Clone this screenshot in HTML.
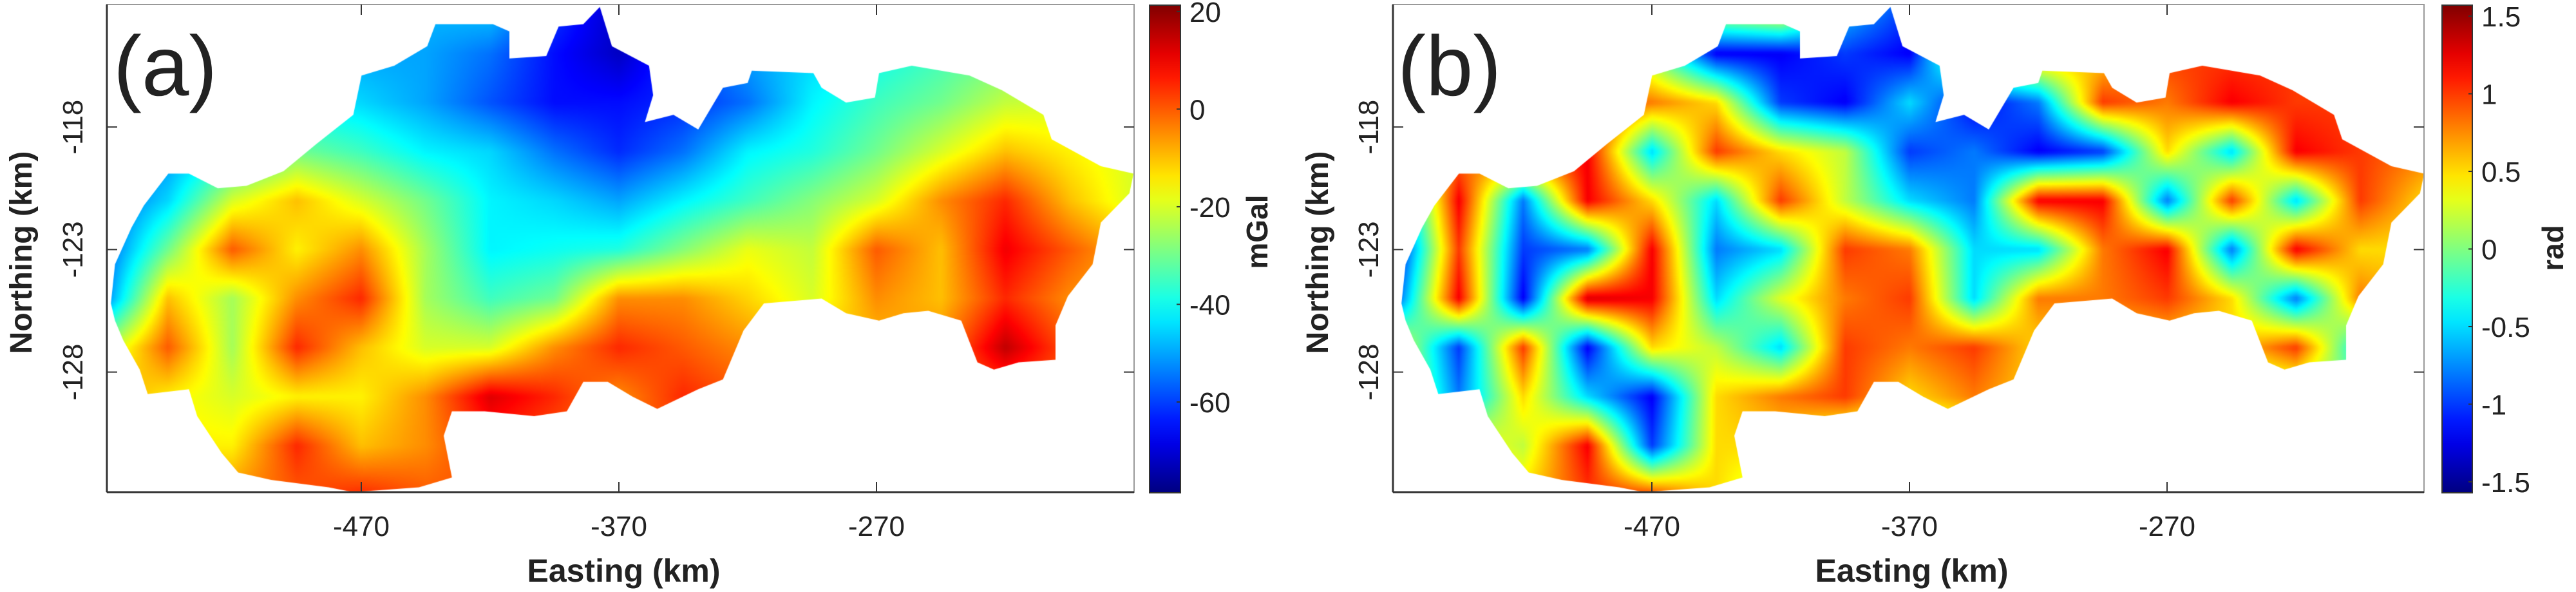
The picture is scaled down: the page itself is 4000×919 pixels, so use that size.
<!DOCTYPE html>
<html><head><meta charset="utf-8">
<style>
html,body{margin:0;padding:0;background:#fff;}
#wrap{position:relative;width:4000px;height:919px;overflow:hidden;background:#fff;}
canvas{position:absolute;}
svg{position:absolute;left:0;top:0;}
text{font-family:"Liberation Sans",Arial,sans-serif;fill:#222;}
</style></head>
<body>
<div id="wrap">
<canvas id="cA"></canvas>
<canvas id="cB"></canvas>
<svg id="svg" width="4000" height="919"></svg>
</div>
<script>
// ---- data ----
const gridEasting = [-570,-545,-520,-495,-470,-445,-420,-395,-370,-345,-320,-295,-270,-245,-220,-195,-170];
const gridNorthing = [-113,-115,-117,-119,-121,-123,-125,-127,-129,-131,-133];
const gravityValues = [
[-50,-50,-50,-50,-50,-48,-45,-60,-72,-60,-50,-45,-40,-35,-30,-25,-25],
[-50,-50,-50,-50,-50,-50,-55,-65,-72,-60,-50,-45,-40,-35,-30,-25,-25],
[-55,-50,-45,-42,-45,-50,-58,-65,-65,-62,-55,-42,-35,-30,-22,-20,-20],
[-58,-52,-40,-30,-35,-42,-45,-55,-62,-55,-42,-38,-30,-20,-10,-15,-20],
[-58,-45,-20,-10,-20,-30,-42,-45,-50,-42,-35,-28,-20,-5,5,-10,-20],
[-58,-30,0,-15,-5,-25,-42,-40,-38,-28,-18,-22,0,-10,10,0,-10],
[-55,-10,-25,-5,5,-25,-35,-30,-5,-5,-12,-20,-5,-10,5,-5,-10],
[-25,0,-25,5,-10,-20,-20,-5,5,0,-5,-10,-10,-5,15,0,-5],
[-5,-15,-20,-15,-15,-5,12,5,-5,5,0,0,0,0,0,0,0],
[-10,-15,-15,5,-10,-5,5,0,0,0,0,0,0,0,0,0,0],
[-10,-10,-5,0,5,0,0,0,0,0,0,0,0,0,0,0,0]];
const phaseValues = [
[0,0,0,0,0,0.5,0.8,-0.5,-1,0,0,0,0,0,0,0,0],
[0,0,0,0,0,-1.2,-1.2,-1.0,-1.2,0.5,0.8,0.5,1,1,1,0.8,0.5],
[0.5,0.5,0.8,1.0,0.8,0.5,-1.0,-1.2,-0.5,-1.2,-0.8,1.0,0.8,1.2,1.0,1.0,0.8],
[0.5,0.8,1.0,1.2,-0.5,1.0,0.5,0.2,-1.0,-0.8,-1.2,-1.0,0.5,-0.5,1.2,1.0,0.8],
[-1.0,1.2,-0.8,1.2,0.5,-0.5,1.0,0.2,-0.5,-0.8,1.2,1.2,-0.8,1.0,-0.5,1.0,0.5],
[-1.3,1.0,-1.0,-0.8,1.2,-0.8,-0.5,1.0,0.8,-0.5,-0.5,0.8,1.2,-0.8,1.2,0.5,0.5],
[-1.0,1.2,-1.2,1.3,1.2,-0.5,0.3,0.8,1.0,-0.5,0.8,0.8,1.0,0.5,-0.8,0.8,0.5],
[0.5,-1.0,1.0,-1.2,0.5,0.2,-0.5,1.0,0.8,1.0,0.5,0.5,0.5,0.5,1.0,-0.5,0.5],
[0.5,-0.8,0.5,-0.5,-1.2,0.5,0.8,1.0,0.5,0.8,0.5,0,0,0,0,0,0],
[0.5,0.5,0.2,1.2,-1.0,0.5,0.5,0,0,0,0,0,0,0,0,0,0],
[0.5,0.5,0.5,1.0,1.0,0.5,0,0,0,0,0,0,0,0,0,0,0]];
const outlineEasting = [-567.2,-565.6,-559.2,-554.4,-544.9,-536.9,-525.7,-514.6,-500.2,-487.5,-473.1,-469.9,-457.2,-444.4,-441.2,-418.9,-412.5,-412.5,-398.2,-393.4,-383.8,-377.4,-372.7,-358.3,-356.7,-359.9,-348.8,-339.2,-329.6,-320.0,-318.4,-294.5,-291.3,-281.8,-270.6,-269.0,-256.3,-233.9,-221.2,-205.2,-202.0,-182.9,-170.2,-171.8,-182.9,-186.1,-195.7,-200.5,-200.5,-214.8,-224.4,-230.8,-237.1,-249.9,-259.5,-269.0,-281.8,-291.3,-313.7,-321.6,-329.6,-339.2,-355.1,-364.7,-374.3,-383.8,-390.2,-402.9,-422.1,-434.8,-438.0,-434.8,-447.6,-473.1,-482.7,-505.0,-517.8,-524.2,-533.7,-536.9,-552.9,-556.0,-562.4,-565.6];
const outlineNorthing = [-125.2,-123.6,-122.1,-121.2,-119.9,-119.9,-120.5,-120.4,-119.8,-118.7,-117.5,-115.9,-115.5,-114.7,-113.8,-113.8,-114.1,-115.2,-115.1,-113.9,-113.8,-113.1,-114.7,-115.5,-116.7,-117.8,-117.5,-118.1,-116.4,-116.2,-115.7,-115.8,-116.4,-117.0,-116.8,-115.8,-115.5,-115.9,-116.5,-117.5,-118.5,-119.6,-119.9,-120.7,-121.9,-123.6,-124.9,-126.1,-127.5,-127.6,-127.9,-127.6,-125.9,-125.5,-125.6,-125.9,-125.6,-125.0,-125.2,-126.3,-128.3,-128.7,-129.5,-129.0,-128.4,-128.4,-129.6,-129.8,-129.6,-129.6,-130.6,-132.3,-132.7,-132.9,-132.7,-132.4,-132.1,-131.3,-129.8,-128.7,-128.9,-127.9,-126.7,-125.9];
const xTicks = [-470,-370,-270];
const yTicks = [-118,-123,-128];
const cbTicksA = [20,0,-20,-40,-60];
const cbTicksB = [1.5,1,0.5,0,-0.5,-1,-1.5];

// ---- layout ----
const panels = [
 {id:'a', canvas:'cA', x0:166, x1:1761, y0:7, y1:764, eMin:-568.75, eMax:-170.0, nMax:-113.0, nMin:-132.9,
  vals:gravityValues, vMin:-78.6, vMax:21.3, cbX:1785, cbW:48, cbTicks:cbTicksA, cbLabel:'mGal', cbLabelX:1952, tag:'(a)', tagX:176,
  ylabX:32, yTickX:112},
 {id:'b', canvas:'cB', x0:2163, x1:3764, y0:7, y1:764, eMin:-570.5, eMax:-170.25, nMax:-113.0, nMin:-132.9,
  vals:phaseValues, vMin:-1.5708, vMax:1.5708, cbX:3792, cbW:47, cbTicks:cbTicksB, cbLabel:'rad', cbLabelX:3964, tag:'(b)', tagX:2170,
  ylabX:2045, yTickX:2124}
];
const cbY0=8, cbY1=765;

function jet(t){
  t=Math.max(0,Math.min(1,t));
  const r=Math.max(0,Math.min(1,1.5-Math.abs(4*t-3)));
  const g=Math.max(0,Math.min(1,1.5-Math.abs(4*t-2)));
  const b=Math.max(0,Math.min(1,1.5-Math.abs(4*t-1)));
  return [Math.round(r*255),Math.round(g*255),Math.round(b*255)];
}
function sample(vals,e,n){
  let fx=(e-gridEasting[0])/(gridEasting[1]-gridEasting[0]);
  let fy=(gridNorthing[0]-n)/(gridNorthing[0]-gridNorthing[1]);
  fx=Math.max(0,Math.min(gridEasting.length-1.0001,fx));
  fy=Math.max(0,Math.min(gridNorthing.length-1.0001,fy));
  const i=Math.floor(fx), j=Math.floor(fy), dx=fx-i, dy=fy-j;
  const a=vals[j][i], b=vals[j][i+1], c=vals[j+1][i], d=vals[j+1][i+1];
  return a*(1-dx)*(1-dy)+b*dx*(1-dy)+c*(1-dx)*dy+d*dx*dy;
}

const NS='http://www.w3.org/2000/svg';
const svg=document.getElementById('svg');
function mk(tag,attrs,parent){const el=document.createElementNS(NS,tag);for(const k in attrs)el.setAttribute(k,attrs[k]);(parent||svg).appendChild(el);return el;}

const defs=mk('defs',{});
const grad=mk('linearGradient',{id:'jetg',x1:0,y1:1,x2:0,y2:0},defs);
for(let k=0;k<=20;k++){const c=jet(k/20);mk('stop',{offset:(k/20),'stop-color':`rgb(${c})`},grad);}

panels.forEach(p=>{
  const W=p.x1-p.x0, H=p.y1-p.y0;
  const xs=e=>p.x0+(e-p.eMin)/(p.eMax-p.eMin)*W;
  const ys=n=>p.y0+(p.nMax-n)/(p.nMax-p.nMin)*H;
  const cv=document.getElementById(p.canvas);
  cv.width=W; cv.height=H; cv.style.left=p.x0+'px'; cv.style.top=p.y0+'px';
  const ctx=cv.getContext('2d');
  const sw=Math.round(W/4), sh=Math.round(H/4);
  const off=document.createElement('canvas'); off.width=sw; off.height=sh;
  const octx=off.getContext('2d'); const img=octx.createImageData(sw,sh);
  for(let y=0;y<sh;y++)for(let x=0;x<sw;x++){
    const e=p.eMin+(x+0.5)/sw*(p.eMax-p.eMin);
    const n=p.nMax-(y+0.5)/sh*(p.nMax-p.nMin);
    const v=sample(p.vals,e,n);
    const c=jet((v-p.vMin)/(p.vMax-p.vMin));
    const o=(y*sw+x)*4; img.data[o]=c[0];img.data[o+1]=c[1];img.data[o+2]=c[2];img.data[o+3]=255;
  }
  octx.putImageData(img,0,0);
  ctx.save(); ctx.beginPath();
  outlineEasting.forEach((e,i)=>{const X=xs(e)-p.x0,Y=ys(outlineNorthing[i])-p.y0; i?ctx.lineTo(X,Y):ctx.moveTo(X,Y);});
  ctx.closePath(); ctx.clip();
  ctx.imageSmoothingEnabled=true; ctx.drawImage(off,0,0,W,H); ctx.restore();

  const g=mk('g',{});
  
  
  mk('rect',{x:p.x0,y:p.y0,width:W,height:H,fill:'none',stroke:'#999','stroke-width':2},g);
  mk('line',{x1:p.x0,y1:p.y1,x2:p.x1,y2:p.y1,stroke:'#333','stroke-width':3},g);
  mk('line',{x1:p.x0,y1:p.y0,x2:p.x0,y2:p.y1,stroke:'#333','stroke-width':3},g);
  xTicks.forEach(t=>{
    const X=xs(t);
    mk('line',{x1:X,y1:p.y1,x2:X,y2:p.y1-16,stroke:'#333','stroke-width':2},g);
    mk('line',{x1:X,y1:p.y0,x2:X,y2:p.y0+16,stroke:'#333','stroke-width':2},g);
    const tx=mk('text',{x:X,y:832,'font-size':44,'text-anchor':'middle'},g);
    
    
    tx.textContent=t;
  });
  yTicks.forEach(t=>{
    const Y=ys(t);
    mk('line',{x1:p.x0,y1:Y,x2:p.x0+16,y2:Y,stroke:'#333','stroke-width':2},g);
    mk('line',{x1:p.x1,y1:Y,x2:p.x1-16,y2:Y,stroke:'#333','stroke-width':2},g);
    const tx=mk('text',{x:0,y:0,'font-size':44,'text-anchor':'middle',transform:`translate(${p.yTickX+16},${Y}) rotate(-90)`},g);
    
    
    tx.textContent=t;
  });
  const xl=mk('text',{x:(p.x0+p.x1)/2+5,y:903,'font-size':50,'font-weight':'bold','text-anchor':'middle'},g);
  
  
  xl.textContent='Easting (km)';
  const yl=mk('text',{x:0,y:0,'font-size':48,'font-weight':'bold','text-anchor':'middle',transform:`translate(${p.ylabX+17},392) rotate(-90)`},g);
  
  
  yl.textContent='Northing (km)';
  const tg=mk('text',{x:p.tagX,y:148,'font-size':132},g);
  
  
  tg.textContent=p.tag;

  const cb=mk('g',{});
  
  
  mk('rect',{x:p.cbX,y:cbY0,width:p.cbW,height:cbY1-cbY0,fill:'url(#jetg)',stroke:'#333','stroke-width':2},cb);
  p.cbTicks.forEach(t=>{
    const Y=cbY1-(t-p.vMin)/(p.vMax-p.vMin)*(cbY1-cbY0);
    mk('line',{x1:p.cbX+p.cbW-6,y1:Y,x2:p.cbX+p.cbW,y2:Y,stroke:'#333','stroke-width':2},cb);
    const tx=mk('text',{x:p.cbX+p.cbW+14,y:Y+16,'font-size':44},cb);
    
    
    tx.textContent=t;
  });
  const cl=mk('text',{x:0,y:0,'font-size':46,'font-weight':'bold','text-anchor':'middle',transform:`translate(${p.cbLabelX+16},${p.id==='a'?360:385}) rotate(-90)`},cb);
  
  
  cl.textContent=p.cbLabel;
});
</script>
</body></html>
